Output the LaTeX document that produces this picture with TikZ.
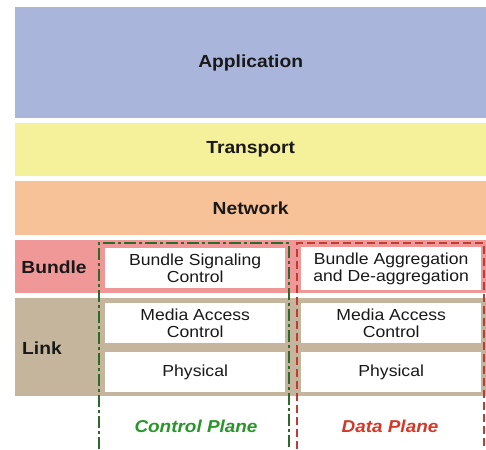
\documentclass[tikz,border=0pt]{standalone}
\usepackage{fontspec}
\setmainfont{Liberation Sans}[FakeStretch=1.1]
\begin{document}
\begin{tikzpicture}[x=1pt,y=-1pt]
\definecolor{appc}{RGB}{169,181,219}
\definecolor{trc}{RGB}{245,241,155}
\definecolor{netc}{RGB}{248,194,153}
\definecolor{bunc}{RGB}{240,152,152}
\definecolor{linkc}{RGB}{197,181,157}
\definecolor{gline}{RGB}{45,105,45}
\definecolor{rline}{RGB}{190,60,50}
\definecolor{gtext}{RGB}{40,150,40}
\definecolor{rtext}{RGB}{212,56,40}
\definecolor{txt}{RGB}{25,25,25}
\tikzset{
  layer/.style={draw=none,anchor=north west,inner sep=0pt,text=txt,
    font=\fontsize{17.5}{20}\selectfont\bfseries},
  wbox/.style={fill=white,draw=none,anchor=north west,inner sep=0pt,
    minimum width=180pt,text=txt,align=center,
    font=\fontsize{16}{17.4}\selectfont},
  lbl/.style={inner sep=0pt,text=txt,font=\fontsize{17.5}{20}\selectfont\bfseries},
  plane/.style={inner sep=0pt,font=\fontsize{17.2}{20}\selectfont\bfseries\itshape},
  gdash/.style={draw=gline,line width=1.8pt,dash pattern=on 12pt off 3pt on 3pt off 3pt},
  rdash/.style={draw=rline,line width=1.6pt,dash pattern=on 8pt off 4pt}
}
\useasboundingbox (0,0) rectangle (486,449);
\fill[white] (0,0) rectangle (486,449);
\node[layer,fill=appc,minimum width=471pt,minimum height=111pt] (app) at (15,7) {Application};
\node[layer,fill=trc,minimum width=471pt,minimum height=53pt] (tr) at (15,123) {Transport};
\node[layer,fill=netc,minimum width=471pt,minimum height=54pt] (net) at (15,181) {Network};
\node[layer,fill=bunc,minimum width=471pt,minimum height=53pt] (bun) at (15,240) {};
\node[layer,fill=linkc,minimum width=471pt,minimum height=98pt] (link) at (15,298) {};
\node[lbl] (bunl) at (54,267) {Bundle};
\node[lbl] (linkl) at (42,348) {Link};
\node[wbox,minimum height=40pt] (bsc) at (105,248) {Bundle Signaling\\Control};
\node[wbox,minimum height=43pt] (bag) at (301,247) {Bundle Aggregation\\and De-aggregation};
\node[wbox,minimum height=40pt] (mac1) at (105,303) {Media Access\\Control};
\node[wbox,minimum height=40pt] (mac2) at (301,303) {Media Access\\Control};
\node[wbox,minimum height=40pt] (phy1) at (105,352) {Physical};
\node[wbox,minimum height=40pt] (phy2) at (301,352) {Physical};
\node[plane,text=gtext] (cp) at (196,426) {Control Plane};
\node[plane,text=rtext] (dp) at (390,426) {Data Plane};
\coordinate (gbl) at (99,449);
\coordinate (gtl) at (99,243);
\coordinate (gtr) at (289,243);
\coordinate (gbr) at (289,449);
\coordinate (rbl) at (297,449);
\coordinate (rtl) at (297,243);
\coordinate (rtr) at (484,243);
\coordinate (rbr) at (484,449);
\draw[gdash] (gbl) -- (gtl) -- (gtr) -- (gbr);
\draw[rdash] (rbl) -- (rtl) -- (rtr) -- (rbr);
\end{tikzpicture}
\end{document}
